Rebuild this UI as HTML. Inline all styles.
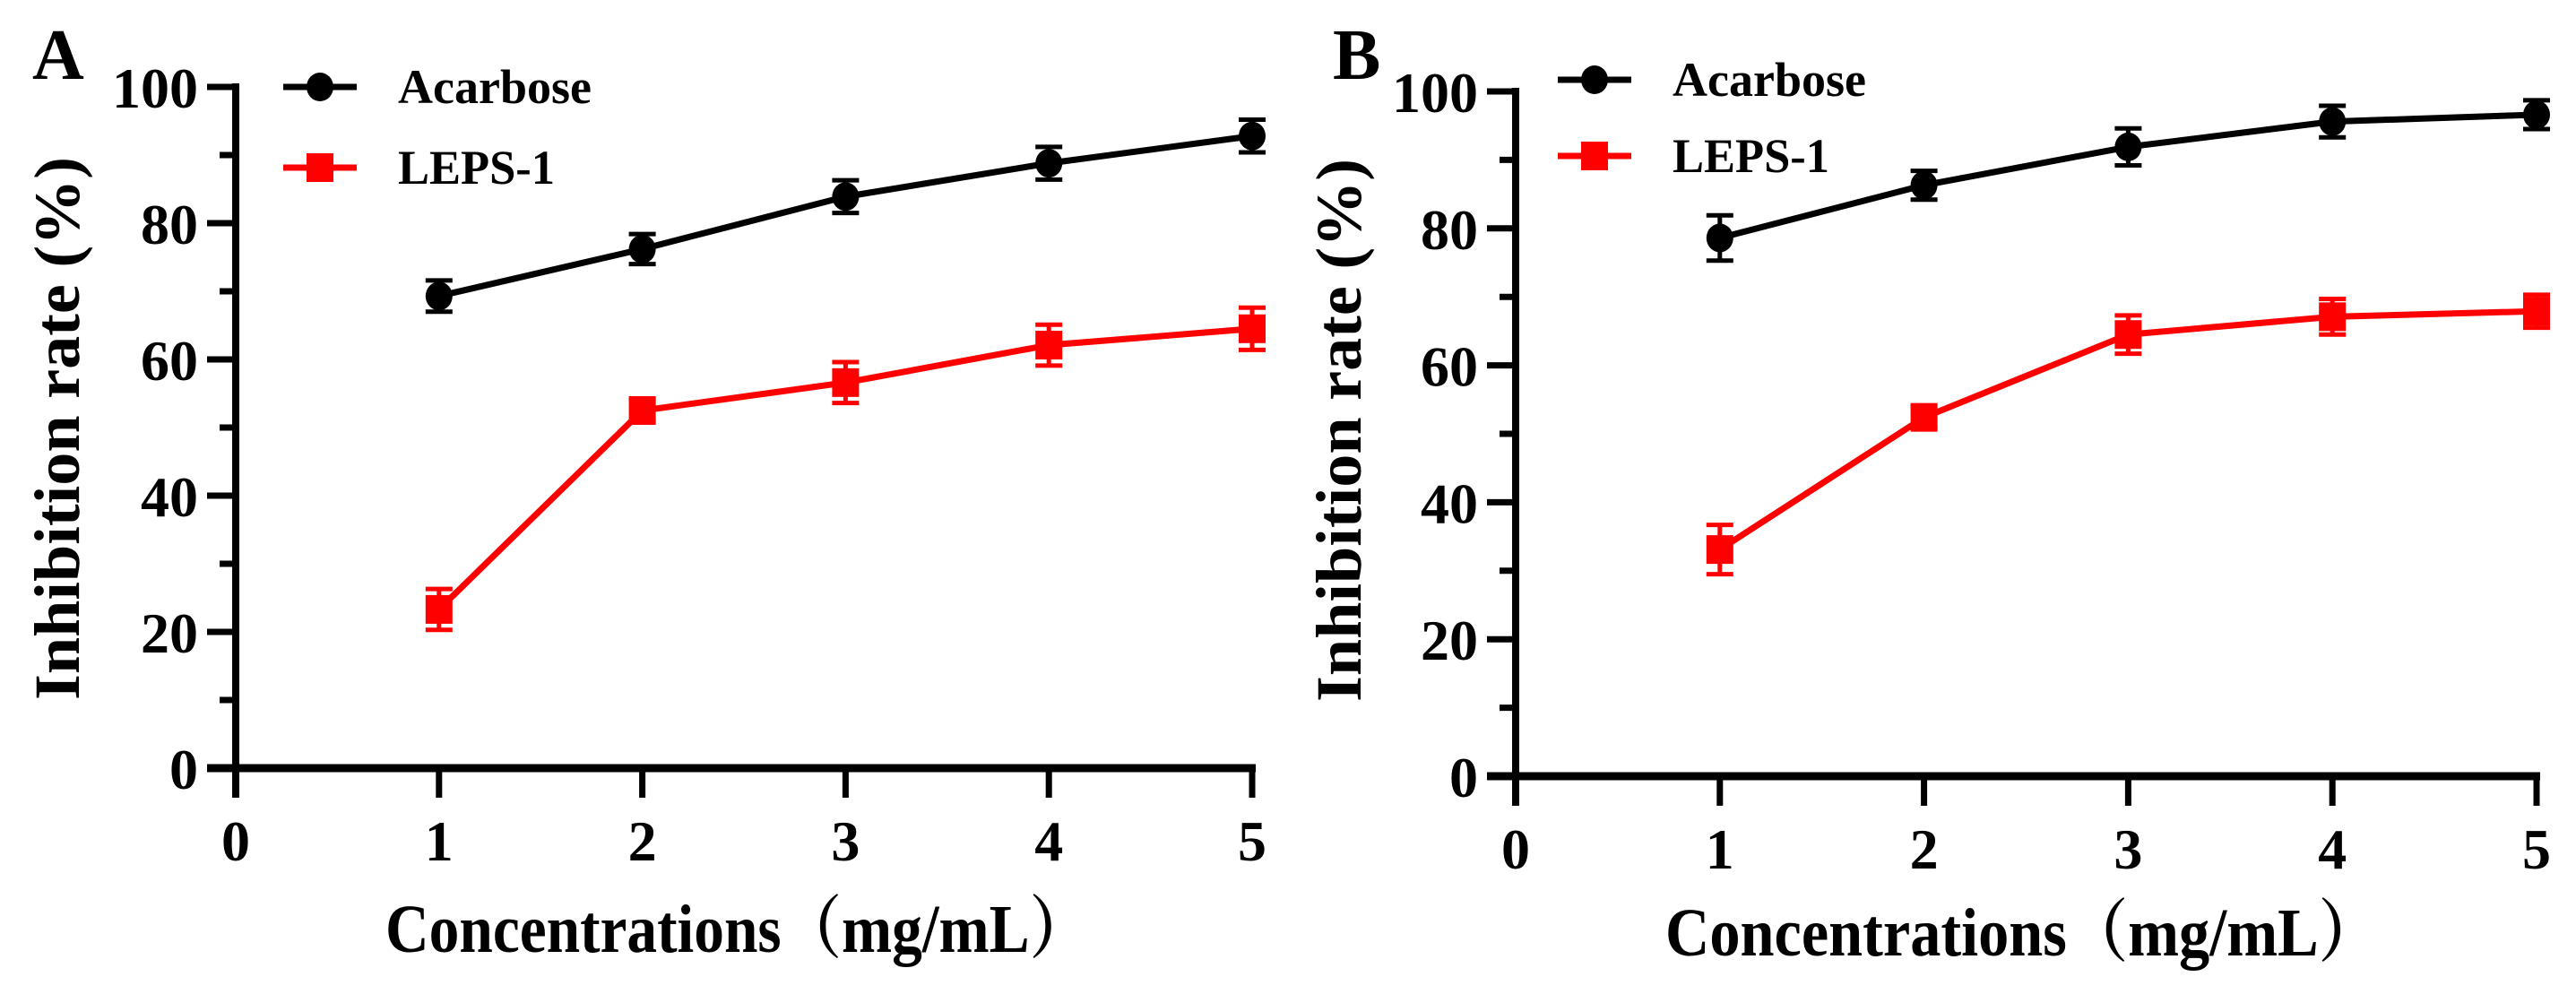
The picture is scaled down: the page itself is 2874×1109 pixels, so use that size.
<!DOCTYPE html>
<html><head><meta charset="utf-8">
<style>
html,body{margin:0;padding:0;background:#fff;}
svg{display:block;}
text{font-family:"Liberation Serif","Noto Serif CJK SC",serif;font-weight:bold;fill:#000;}
</style></head>
<body>
<svg id="chart" width="2874" height="1109" viewBox="0 0 2874 1109" xmlns="http://www.w3.org/2000/svg"></svg>
<script>
const xCategories = [1, 2, 3, 4, 5];
const xTickLabels = ["0", "1", "2", "3", "4", "5"];
const yTickLabels = ["0", "20", "40", "60", "80", "100"];
const acarboseA = [69.3, 76.2, 83.9, 88.8, 92.8];
const acarboseAErr = [2.3, 2.2, 2.4, 2.4, 2.4];
const lepsA = [23.3, 52.5, 56.6, 62.1, 64.5];
const lepsAErr = [3.0, 1.5, 3.0, 3.0, 3.1];
const acarboseB = [78.6, 86.3, 91.9, 95.6, 96.6];
const acarboseBErr = [3.3, 2.1, 2.7, 2.3, 2.1];
const lepsB = [33.1, 52.4, 64.5, 67.1, 67.9];
const lepsBErr = [3.6, 1.5, 2.8, 2.6, 2.4];

const NS = "http://www.w3.org/2000/svg";
const svg = document.getElementById("chart");
function mk(tag, attrs, parent) {
  const e = document.createElementNS(NS, tag);
  for (const k in attrs) e.setAttribute(k, attrs[k]);
  (parent || svg).appendChild(e);
  return e;
}

function panel(p) {
  const g = mk("g", {});
  
  
  const X = v => p.x0 + v * p.xu;
  const Y = v => p.y0 - v * p.yu;
  const xEnd = X(5), yTop = Y(100);

  const lab = mk("text", {x: p.labX, y: 88, "font-size": 80}, g);
  lab.textContent = p.id;
  
  

  const ya = mk("line", {x1: p.x0, y1: yTop - 4, x2: p.x0, y2: p.y0 + 33, stroke: "#000", "stroke-width": 8}, g);
  
  
  const xa = mk("line", {x1: p.x0 - 32, y1: p.y0, x2: xEnd + 4, y2: p.y0, stroke: "#000", "stroke-width": 9}, g);
  
  

  for (let i = 0; i <= 10; i++) {
    const v = i * 10, major = i % 2 === 0;
    const t = mk("line", {x1: p.x0 - (major ? 32 : 18), y1: Y(v), x2: p.x0, y2: Y(v), stroke: "#000", "stroke-width": 7}, g);
    
    
    if (major) {
      const tl = mk("text", {x: p.x0 - 42, y: Y(v) + 23, "font-size": 64, "text-anchor": "end"}, g);
      tl.textContent = yTickLabels[i / 2];
      
      
    }
  }
  for (let i = 0; i <= 5; i++) {
    const t = mk("line", {x1: X(i), y1: p.y0, x2: X(i), y2: p.y0 + 33, stroke: "#000", "stroke-width": 7}, g);
    
    
    const tl = mk("text", {x: X(i), y: p.y0 + 103, "font-size": 64, "text-anchor": "middle"}, g);
    tl.textContent = xTickLabels[i];
    
    
  }
  const yt = mk("text", {x: 0, y: 0, "font-size": 72, "text-anchor": "middle", textLength: 606, lengthAdjust: "spacingAndGlyphs", transform: `translate(${p.ytX},${p.ytY}) rotate(-90)`}, g);
  yt.textContent = "Inhibition rate (%)";
  
  
  const xt = mk("text", {x: p.xtX, y: p.xtY, "font-size": 76, textLength: p.xtW, lengthAdjust: "spacingAndGlyphs"}, g);
  xt.textContent = "Concentrations（mg/mL）";
  
  

  function series(vals, errs, color, shape, name) {
    const sg = mk("g", {}, g);
    
    
    const pts = xCategories.map((c, i) => X(c) + "," + Y(vals[i])).join(" ");
    const pl = mk("polyline", {points: pts, fill: "none", stroke: color, "stroke-width": 7, "stroke-linejoin": "round"}, sg);
    
    
    xCategories.forEach((c, i) => {
      const cx = X(c), cy = Y(vals[i]), eh = errs[i] * p.yu;
      const eb = mk("path", {d: `M${cx},${cy - eh}V${cy + eh}M${cx - 15},${cy - eh}H${cx + 15}M${cx - 15},${cy + eh}H${cx + 15}`, stroke: color, "stroke-width": 5, fill: "none"}, sg);
      
      
      let m;
      if (shape === "circle") m = mk("ellipse", {cx: cx, cy: cy, rx: 15, ry: 16, fill: color}, sg);
      else m = mk("rect", {x: cx - 15, y: cy - 16, width: 30, height: 32, fill: color}, sg);
      
      
    });
  }
  series(p.a, p.ae, "#000", "circle", "acarbose");
  series(p.l, p.le, "#ff0000", "square", "leps-1");

  const lg = mk("g", {}, g);
  
  
  const l1 = mk("g", {}, lg);
  
  
  mk("line", {x1: p.lgX, y1: p.lgY1, x2: p.lgX + 82, y2: p.lgY1, stroke: "#000", "stroke-width": 7}, l1);
  mk("ellipse", {cx: p.lgX + 41, cy: p.lgY1, rx: 15, ry: 16, fill: "#000"}, l1);
  const t1 = mk("text", {x: p.lgX + 128, y: p.lgY1 + 18, "font-size": 54, textLength: p.lgW1, lengthAdjust: "spacingAndGlyphs"}, l1);
  t1.textContent = "Acarbose";
  const l2 = mk("g", {}, lg);
  
  
  mk("line", {x1: p.lgX, y1: p.lgY2, x2: p.lgX + 82, y2: p.lgY2, stroke: "#ff0000", "stroke-width": 7}, l2);
  mk("rect", {x: p.lgX + 26, y: p.lgY2 - 16, width: 30, height: 32, fill: "#ff0000"}, l2);
  const t2 = mk("text", {x: p.lgX + 128, y: p.lgY2 + 18, "font-size": 54, textLength: p.lgW2, lengthAdjust: "spacingAndGlyphs"}, l2);
  t2.textContent = "LEPS-1";
}

panel({id: "A", x0: 263, xu: 226.8, y0: 857, yu: 7.6, labX: 36,
  ytX: 88, ytY: 478, xtX: 430, xtY: 1062, xtW: 786,
  lgX: 316, lgY1: 97, lgY2: 187, lgW1: 216, lgW2: 175,
  a: acarboseA, ae: acarboseAErr, l: lepsA, le: lepsAErr});
panel({id: "B", x0: 1691, xu: 227.8, y0: 866, yu: 7.64, labX: 1487,
  ytX: 1518, ytY: 480, xtX: 1858, xtY: 1066, xtW: 797,
  lgX: 1738, lgY1: 89, lgY2: 174, lgW1: 216, lgW2: 175,
  a: acarboseB, ae: acarboseBErr, l: lepsB, le: lepsBErr});
</script>
</body></html>
